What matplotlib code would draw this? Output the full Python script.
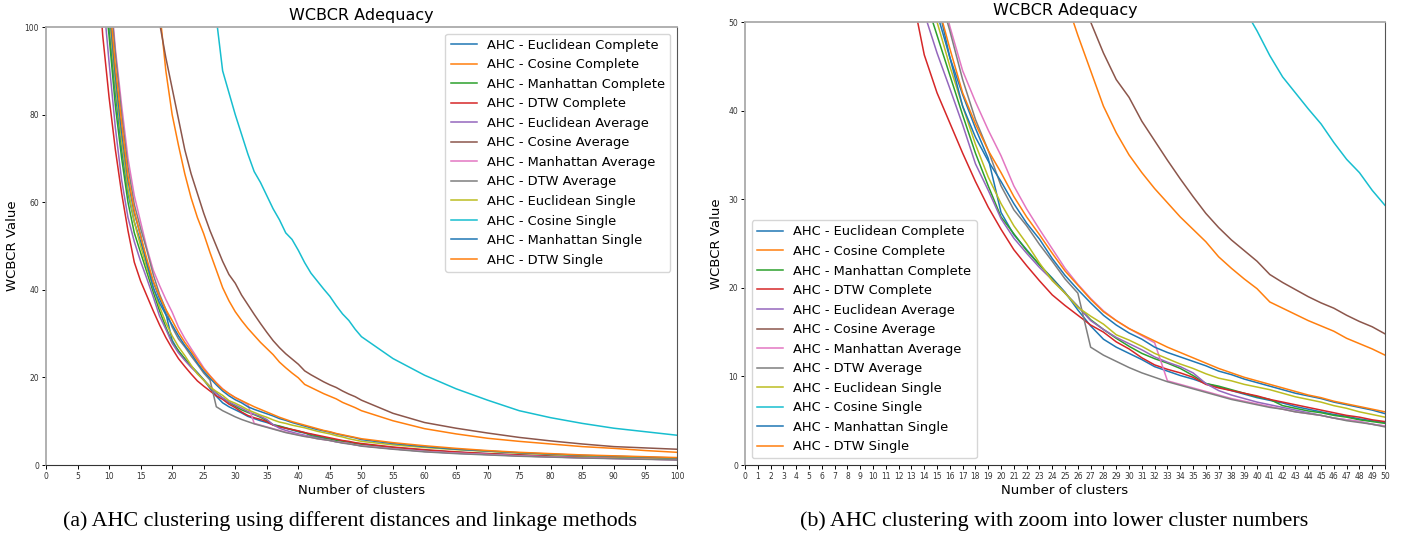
import matplotlib
matplotlib.use("Agg")
from matplotlib import pyplot as plt

# number of clusters (x values shared by every curve)
clusters = list(range(8, 51)) + [55, 60, 65, 70, 75, 80, 85, 90, 95, 100]

euclidean_complete = [135, 116, 100, 85, 72, 62, 55.5, 51, 46, 41.8, 38.0, 34.6, 28.5, 26.0, 24.3, 22.6, 21.1,
                      19.5, 17.5, 15.7, 14.2, 13.3, 12.6, 11.9, 11.1, 10.6, 10.1, 9.7, 9.2, 8.8, 8.4, 8.0, 7.6,
                      7.3, 7.0, 6.6, 6.3, 6.0, 5.7, 5.5, 5.2, 5.0, 4.8,
                      4.0, 3.4, 2.9, 2.6, 2.3, 2.0, 1.8, 1.6, 1.45, 1.3]
cosine_complete = [420, 360, 310, 270, 235, 205, 180, 160, 140, 122, 104, 90, 80, 73, 66.5, 61, 56.5, 52.8, 48.5,
                   44.5, 40.5, 37.5, 35.0, 33.0, 31.2, 29.6, 28.0, 26.6, 25.2, 23.5, 22.2, 21.0, 19.9, 18.4, 17.7,
                   17.0, 16.3, 15.7, 15.1, 14.3, 13.7, 13.1, 12.4,
                   10.1, 8.3, 7.1, 6.1, 5.4, 4.8, 4.2, 3.8, 3.3, 2.9]
manhattan_complete = [130, 112, 98, 82, 70, 60, 53, 48.5, 44, 39.5, 35.2, 31.5, 28.0, 26.1, 24.2, 22.6, 21.0, 19.4,
                      17.9, 16.4, 15.3, 14.3, 13.4, 12.6, 12.0, 11.5, 10.9, 10.1, 9.2, 8.9, 8.5, 8.1, 7.7, 7.4, 6.7,
                      6.4, 6.1, 5.9, 5.6, 5.4, 5.1, 4.9, 4.7,
                      3.9, 3.3, 2.9, 2.5, 2.2, 2.0, 1.8, 1.6, 1.45, 1.3]
dtw_complete = [118, 98, 84, 72, 62, 53.5, 46.3, 42.0, 38.6, 35.2, 32.0, 29.1, 26.6, 24.3, 22.5, 20.8, 19.2, 18.0,
                16.9, 15.8, 15.0, 13.9, 13.1, 12.1, 11.3, 10.8, 10.4, 9.9, 9.1, 8.7, 8.4, 8.1, 7.8, 7.4, 7.1, 6.8,
                6.5, 6.2, 5.9, 5.6, 5.4, 5.1, 4.9,
                4.1, 3.5, 3.0, 2.6, 2.3, 2.0, 1.8, 1.6, 1.45, 1.3]
euclidean_average = [125, 108, 92, 77, 65, 56.5, 51, 46.5, 42.5, 38.4, 34, 31, 27.8, 25.6, 23.9, 22.3, 20.9, 19.4,
                     17.9, 16.3, 15.3, 14.4, 13.7, 13.0, 12.2, 11.6, 11.1, 10.4, 9.2, 8.4, 7.9, 7.5, 7.1, 6.8, 6.5,
                     6.2, 5.9, 5.6, 5.3, 5.1, 4.9, 4.6, 4.4,
                     3.7, 3.1, 2.7, 2.4, 2.1, 1.85, 1.65, 1.5, 1.35, 1.2]
cosine_average = [400, 350, 300, 260, 225, 195, 170, 150, 130, 114, 101, 93, 86, 79, 72, 66.5, 62, 57.5, 53.5, 50,
                  46.5, 43.5, 41.5, 38.8, 36.6, 34.4, 32.3, 30.3, 28.4, 26.8, 25.4, 24.2, 23.0, 21.5, 20.6, 19.8,
                  19.0, 18.3, 17.7, 16.9, 16.2, 15.6, 14.8,
                  11.8, 9.7, 8.4, 7.3, 6.3, 5.5, 4.8, 4.2, 3.9, 3.6]
manhattan_average = [150, 130, 112, 95, 82, 70, 61.5, 55.5, 49.5, 44.5, 41.0, 37.8, 34.9, 31.5, 28.9, 26.6, 24.4,
                     22.2, 20.4, 18.8, 17.4, 16.3, 15.4, 14.6, 13.8, 9.5, 9.1, 8.7, 8.3, 7.9, 7.5, 7.2, 6.9, 6.6,
                     6.3, 6.0, 5.8, 5.6, 5.3, 5.1, 4.9, 4.6, 4.4,
                     3.7, 3.1, 2.7, 2.4, 2.1, 1.85, 1.65, 1.5, 1.35, 1.2]
dtw_average = [148, 128, 110, 94, 80, 68, 59.5, 54, 49, 43.5, 39, 35.5, 31.5, 28.8, 27.0, 24.9, 23.0, 21.0, 19.4,
               13.3, 12.4, 11.7, 11.0, 10.4, 9.9, 9.4, 9.0, 8.6, 8.2, 7.8, 7.4, 7.1, 6.8, 6.5, 6.3, 6.0, 5.8, 5.6,
               5.3, 5.0, 4.8, 4.6, 4.3,
               3.6, 3.0, 2.6, 2.3, 2.0, 1.8, 1.6, 1.45, 1.3, 1.15]
euclidean_single = [133, 116, 103, 87, 74, 63, 55.5, 50, 45, 40.5, 36.2, 32.5, 29.5, 27.0, 25.0, 22.8, 20.8, 19.4,
                    17.8, 16.8, 15.9, 14.7, 14.1, 13.4, 12.6, 12.0, 11.4, 10.9, 10.3, 9.8, 9.5, 9.1, 8.8, 8.5, 8.1,
                    7.7, 7.4, 7.1, 6.7, 6.4, 6.0, 5.7, 5.4,
                    4.6, 4.0, 3.5, 3.1, 2.7, 2.4, 2.1, 1.9, 1.7, 1.55]
cosine_single = [600, 540, 490, 445, 405, 370, 340, 310, 285, 260, 238, 218, 200, 184, 168, 154, 140, 126, 114, 102,
                 90, 85, 80, 75.5, 71, 67, 64.5, 61.5, 58.5, 56, 53, 51.5, 49.0, 46.2, 43.8, 42.0, 40.2, 38.5,
                 36.4, 34.5, 33.0, 31.0, 29.3,
                 24.3, 20.5, 17.4, 14.8, 12.4, 10.8, 9.5, 8.4, 7.6, 6.8]
manhattan_single = [140, 121, 105, 89, 76, 65, 57.5, 52.5, 46, 40.5, 37.0, 34.3, 32.0, 29.5, 27.3, 25.5, 23.3, 21.4,
                    19.8, 18.3, 16.9, 15.8, 14.9, 14.2, 13.3, 12.7, 12.2, 11.7, 11.2, 10.6, 10.2, 9.7, 9.3, 8.9,
                    8.5, 8.1, 7.8, 7.5, 7.1, 6.8, 6.5, 6.2, 5.8,
                    4.9, 4.2, 3.6, 3.2, 2.8, 2.5, 2.2, 2.0, 1.8, 1.6]
dtw_single = [142, 124, 107, 91, 78, 66, 58, 52.3, 47, 42, 38.5, 35.5, 33.0, 30.3, 28.0, 26.0, 23.9, 21.9, 20.3,
              18.7, 17.3, 16.3, 15.4, 14.7, 14.0, 13.3, 12.7, 12.1, 11.5, 10.9, 10.4, 9.9, 9.5, 9.1, 8.7, 8.3,
              7.9, 7.6, 7.2, 6.9, 6.6, 6.3, 6.0,
              5.1, 4.4, 3.8, 3.3, 2.9, 2.6, 2.3, 2.1, 1.9, 1.7]

labels = ["AHC - Euclidean Complete", "AHC - Cosine Complete", "AHC - Manhattan Complete", "AHC - DTW Complete",
          "AHC - Euclidean Average", "AHC - Cosine Average", "AHC - Manhattan Average", "AHC - DTW Average",
          "AHC - Euclidean Single", "AHC - Cosine Single", "AHC - Manhattan Single", "AHC - DTW Single"]
series = [euclidean_complete, cosine_complete, manhattan_complete, dtw_complete,
          euclidean_average, cosine_average, manhattan_average, dtw_average,
          euclidean_single, cosine_single, manhattan_single, dtw_single]


def draw(ax, xmax, ymax, xstep, ystep, legend_loc):
    for values, label in zip(series, labels):
        ax.plot(clusters, values, lw=1.1, label=label)
    ax.set_xlim(0, xmax)
    ax.set_ylim(0, ymax)
    ax.set_xticks(range(0, xmax + 1, xstep))
    ax.set_yticks(range(0, ymax + 1, ystep))
    ax.tick_params(labelsize=5.5, labelcolor="#333333", length=3, width=0.7, pad=2)
    ax.set_title("WCBCR Adequacy", fontsize=11.5, pad=5)
    ax.set_xlabel("Number of clusters", fontsize=9.5, labelpad=2)
    ax.set_ylabel("WCBCR Value", fontsize=9.5)
    for side in ["left", "top"]:
        ax.spines[side].set_color("#aaaaaa")
        ax.spines[side].set_linewidth(1.3)
    ax.spines["bottom"].set_color("#333333")
    ax.spines["right"].set_color("#555555")
    ax.legend(loc=legend_loc, fontsize=9.4, labelspacing=0.5, borderaxespad=0.5)


fig = plt.figure(figsize=(14.01, 5.34), dpi=100)
ax1 = fig.add_axes([0.0328, 0.1292, 0.4504, 0.8202])
ax2 = fig.add_axes([0.5318, 0.1292, 0.4568, 0.8296])

draw(ax1, 100, 100, 5, 20, "upper right")
draw(ax2, 50, 50, 1, 10, "lower left")

fig.text(0.25, 0.0243, "(a) AHC clustering using different distances and linkage methods",
         family="Liberation Serif", fontsize=15.8, ha="center", va="center")
fig.text(0.7523, 0.0243, "(b) AHC clustering with zoom into lower cluster numbers",
         family="Liberation Serif", fontsize=15.8, ha="center", va="center")

fig.savefig("out.png", dpi=100)
